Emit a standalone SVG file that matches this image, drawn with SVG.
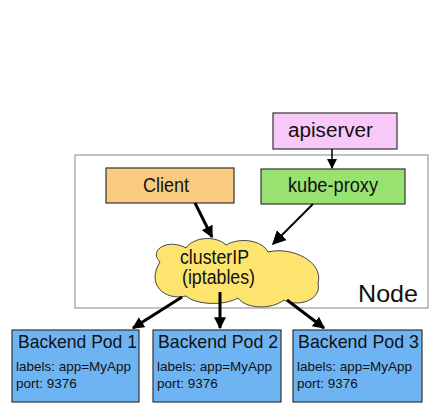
<svg xmlns="http://www.w3.org/2000/svg" width="438" height="419" viewBox="0 0 438 419">
<defs>
<style>
text{font-family:"Liberation Sans",Arial,sans-serif;fill:#111}
.box{stroke:#333;stroke-width:1.2}
.lbl{font-size:20px}
.pt{font-size:18.5px}
.ps{font-size:13.5px}
.c{stroke:#000;stroke-width:3;fill:none}
</style>
<marker id="ah" viewBox="0 0 10 10" refX="9" refY="5" markerWidth="4" markerHeight="4" orient="auto" markerUnits="strokeWidth"><path d="M0,0 L10,5 L0,10 Z" fill="#000"/></marker>
<marker id="ah2" viewBox="0 0 10 10" refX="9" refY="5" markerWidth="7" markerHeight="7" orient="auto" markerUnits="strokeWidth"><path d="M0,0 L10,5 L0,10 Z" fill="#000"/></marker>
</defs>
<rect width="438" height="419" fill="#fff"/>
<g id="node">
<rect x="75" y="155" width="353" height="153" fill="#fff" stroke="#888" stroke-width="1"/>
<text x="358" y="302" style="font-size:24px" textLength="60" lengthAdjust="spacingAndGlyphs">Node</text>
</g>
<g id="apiserver">
<rect class="box" x="273" y="113" width="124" height="36" fill="#f8c8f8"/>
<text class="lbl" x="288" y="137" textLength="85" lengthAdjust="spacingAndGlyphs">apiserver</text>
</g>
<g id="client">
<rect class="box" x="106" y="168" width="128" height="35" fill="#f9cb80"/>
<text class="lbl" x="143" y="192" textLength="46" lengthAdjust="spacingAndGlyphs">Client</text>
</g>
<g id="kube-proxy">
<rect class="box" x="261" y="169" width="144" height="35" fill="#98e272"/>
<text class="lbl" x="288" y="192" textLength="90" lengthAdjust="spacingAndGlyphs">kube-proxy</text>
</g>
<g id="clusterIP">
<path d="M160,262 C148,250 168,238 186,248 C193,237 216,235 226,245 C240,237 262,240 268,252 C292,246 324,262 318,283 C322,299 300,308 284,300 C271,310 246,309 238,298 C224,306 196,305 186,296 C164,301 146,284 160,262 Z" fill="#fde46e" stroke="#444" stroke-width="1"/>
<text class="lbl" x="180" y="264" textLength="69" lengthAdjust="spacingAndGlyphs">clusterIP</text>
<text class="lbl" x="182" y="284" textLength="73" lengthAdjust="spacingAndGlyphs">(iptables)</text>
</g>
<g id="pod1">
<rect class="box" x="12" y="330" width="127" height="72" fill="#6fb4f2"/>
<text class="pt" x="18" y="348" textLength="119" lengthAdjust="spacingAndGlyphs">Backend Pod 1</text>
<text class="ps" x="16" y="371" textLength="115" lengthAdjust="spacingAndGlyphs">labels: app=MyApp</text>
<text class="ps" x="16" y="388">port: 9376</text>
</g>
<g id="pod2">
<rect class="box" x="153" y="330" width="128" height="72" fill="#6fb4f2"/>
<text class="pt" x="158" y="348" textLength="120" lengthAdjust="spacingAndGlyphs">Backend Pod 2</text>
<text class="ps" x="157" y="371" textLength="115" lengthAdjust="spacingAndGlyphs">labels: app=MyApp</text>
<text class="ps" x="157" y="388">port: 9376</text>
</g>
<g id="pod3">
<rect class="box" x="293" y="330" width="129" height="72" fill="#6fb4f2"/>
<text class="pt" x="298" y="348" textLength="121" lengthAdjust="spacingAndGlyphs">Backend Pod 3</text>
<text class="ps" x="297" y="371" textLength="115" lengthAdjust="spacingAndGlyphs">labels: app=MyApp</text>
<text class="ps" x="297" y="388">port: 9376</text>
</g>
<g id="connectors">
<line x1="332" y1="149" x2="332" y2="168" stroke="#000" stroke-width="1.5" marker-end="url(#ah2)"/>
<line class="c" x1="195" y1="203" x2="212" y2="237" marker-end="url(#ah)"/>
<line x1="313" y1="204" x2="273" y2="244" stroke="#000" stroke-width="2" marker-end="url(#ah2)" style="fill:none"/>
<line class="c" x1="182" y1="297" x2="133" y2="328" marker-end="url(#ah)"/>
<line class="c" x1="220" y1="292" x2="220" y2="328" marker-end="url(#ah)"/>
<line class="c" x1="287" y1="300" x2="324" y2="328" marker-end="url(#ah)"/>
</g>
</svg>
